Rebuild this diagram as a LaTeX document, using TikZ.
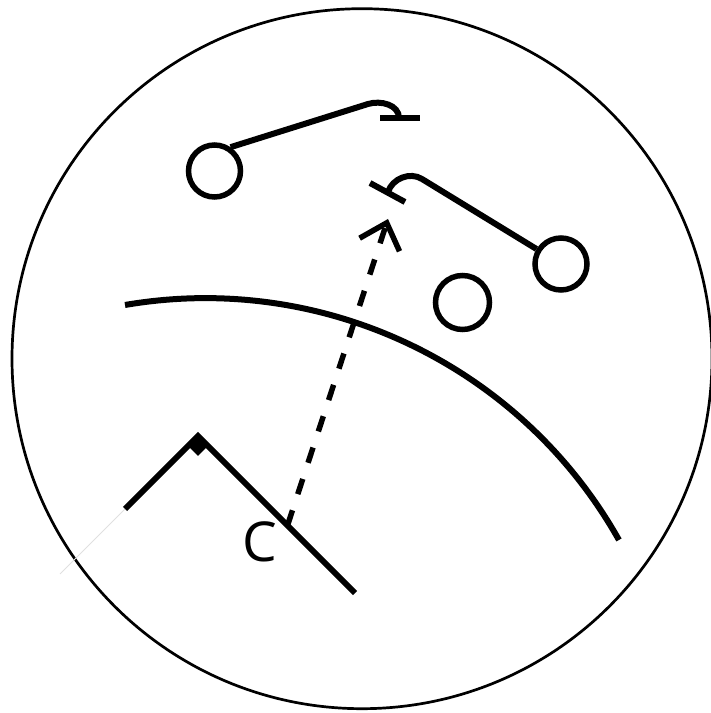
\documentclass[tikz,border=0pt]{standalone}
\usepackage{fontspec}
\setmainfont{Open Sans}
\usetikzlibrary{arrows.meta, calc}

\begin{document}
\begin{tikzpicture}[
  x=1pt, y=1pt,
  cell/.style={draw, circle, line width=5.5pt, minimum size=52pt, inner sep=0pt},
  axon/.style={line width=6pt},
  arr/.style={-{Straight Barb[length=23pt, width=42pt]}, line width=5.5pt, dash pattern=on 16pt off 17pt}
]
\useasboundingbox (0,0) rectangle (711,713);
\draw[line width=2.7pt] (362,354.3) circle[radius=350pt];

% cells
\node[cell] (n1) at (214.5,542) {};
\node[cell] (n2) at (561,449) {};
\node[cell, minimum size=54pt] (n3) at (462.5,410.5) {};

% terminals
\coordinate (t1) at (399,595);
\coordinate (t2) at (388,521);
\draw[axon] (n1.56) -- (368,609) to[out=17,in=90] (t1);
\draw[axon] ($(t1)+(-19,0)$) -- ($(t1)+(21,0)$);
\draw[axon] (n2) -- (422,534) to[out=148,in=72] (t2);
\draw[axon] ($(t2)+(-18,9)$) -- ($(t2)+(17,-10)$);

% boundary
\draw[axon] (125,408) arc[start angle=99.75, end angle=29.37, radius=474.6pt];

% right angle
\coordinate (apex) at (198,277);
\coordinate (armL) at (125,204);
\coordinate (armR) at (355,120);
\draw[black!12, line width=1pt] (armL) -- ($(apex)!1.89!(armL)$);
\draw[axon] (armL) -- (apex) -- (armR);
\fill (apex) -- ++(-45:14) -- ++(-135:14) -- ++(135:14) -- cycle;
\node[font=\fontsize{55}{55}\selectfont, inner sep=0pt] (lbl) at (260,171) {C};

\coordinate (foot) at ($(apex)!0.57!(armR)$);
\coordinate (tip) at (388,494);
\draw[arr] (foot) -- (tip);
\end{tikzpicture}
\end{document}
